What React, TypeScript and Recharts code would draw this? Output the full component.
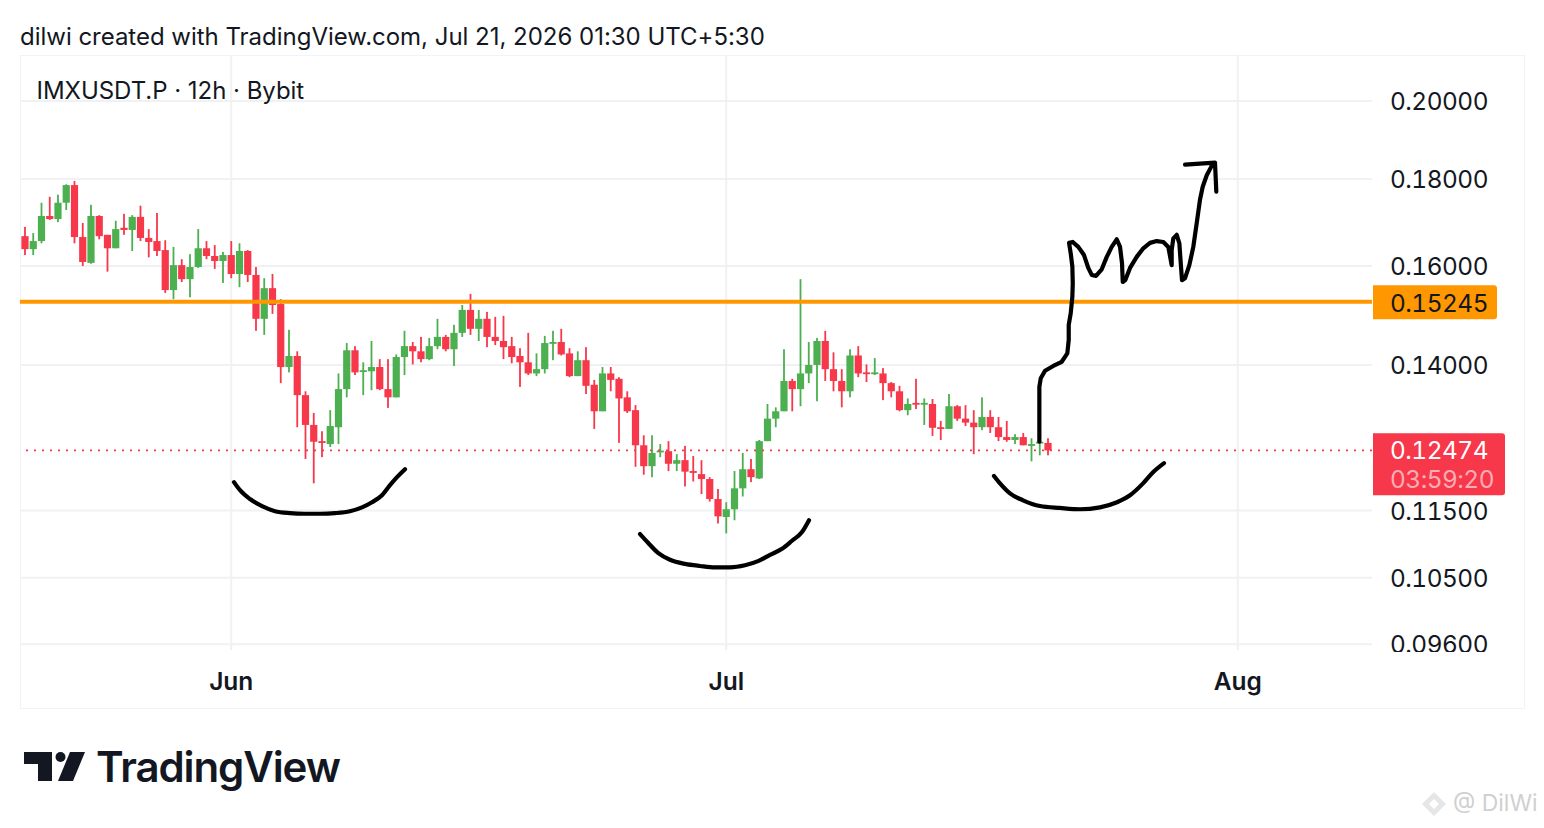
import React from "react";
import { ComposedChart, Bar, Line, XAxis, YAxis, CartesianGrid, ReferenceLine } from "recharts";

const highs = [.1687,.1673,.1743,.1757,.1762,.1787,.1795,.1696,.1738,.1714,.1669,.1701,.1717,.1714,.1736,.1682,.1719,.1657,.1642,.1615,.1626,.1682,.1655,.1646,.1631,
.1655,.1650,.1635,.1598,.1574,.1583,.1530,.1468,.1426,.1351,.1312,.1280,.1317,.1384,.1442,.1436,.1405,.1446,.1411,.1411,.1420,.1466,.1444,.1454,.1452,
.1490,.1458,.1478,.1518,.1541,.1508,.1504,.1494,.1496,.1454,.1432,.1462,.1422,.1456,.1466,.1470,.1432,.1426,.1434,.1372,.1396,.1396,.1377,.1351,.1326,
.1273,.1273,.1258,.1263,.1241,.1255,.1238,.1231,.1203,.1184,.1163,.1213,.1243,.1233,.1265,.1328,.1322,.1430,.1374,.1572,.1444,.1452,.1466,.1424,.1392,
.1430,.1436,.1401,.1413,.1394,.1368,.1361,.1338,.1374,.1338,.1337,.1298,.1346,.1326,.1326,.1317,.1340,.1317,.1305,.1298,.1275,.1277,.1268,.1270,.1268];
const opens = [.1666,.1637,.1655,.1712,.1705,.1743,.1785,.1664,.1607,.1712,.1669,.1639,.1685,.1680,.1710,.1662,.1655,.1635,.1549,.1602,.1572,.1598,.1639,.1622,.1611,
.1624,.1583,.1633,.1581,.1490,.1553,.1520,.1396,.1417,.1344,.1291,.1263,.1258,.1287,.1355,.1428,.1388,.1388,.1396,.1355,.1340,.1415,.1436,.1426,.1411,
.1436,.1454,.1430,.1462,.1508,.1470,.1490,.1454,.1446,.1436,.1417,.1405,.1384,.1392,.1442,.1444,.1422,.1379,.1409,.1363,.1315,.1384,.1374,.1340,.1317,
.1256,.1221,.1245,.1246,.1225,.1231,.1213,.1208,.1200,.1168,.1140,.1152,.1185,.1216,.1201,.1263,.1302,.1315,.1370,.1355,.1384,.1400,.1446,.1392,.1370,
.1351,.1418,.1386,.1384,.1384,.1366,.1351,.1317,.1330,.1328,.1328,.1287,.1284,.1324,.1302,.1295,.1287,.1305,.1287,.1270,.1265,.1270,.1256,.1260,.1260];
const closes = [.1637,.1655,.1712,.1705,.1743,.1785,.1664,.1609,.1712,.1666,.1639,.1682,.1680,.1710,.1662,.1653,.1633,.1549,.1602,.1572,.1598,.1639,.1622,.1611,.1624,
.1583,.1633,.1581,.1490,.1553,.1518,.1396,.1417,.1344,.1291,.1262,.1262,.1289,.1355,.1428,.1386,.1390,.1396,.1355,.1340,.1415,.1436,.1426,.1411,.1436,
.1454,.1430,.1462,.1508,.1470,.1490,.1454,.1446,.1434,.1415,.1405,.1384,.1392,.1442,.1444,.1420,.1379,.1409,.1361,.1315,.1384,.1372,.1338,.1315,.1256,
.1221,.1243,.1247,.1225,.1231,.1212,.1210,.1200,.1168,.1141,.1152,.1185,.1216,.1203,.1263,.1302,.1315,.1370,.1355,.1384,.1400,.1446,.1392,.1370,.1351,
.1418,.1384,.1384,.1386,.1366,.1351,.1317,.1328,.1328,.1330,.1286,.1286,.1324,.1302,.1295,.1287,.1305,.1287,.1270,.1265,.1270,.1256,.1258,.1262,.12474];
const lows = [.1624,.1624,.1650,.1703,.1698,.1726,.1650,.1600,.1605,.1659,.1588,.1639,.1669,.1633,.1655,.1619,.1622,.1543,.1530,.1566,.1534,.1596,.1615,.1594,.1564,
.1574,.1555,.1566,.1466,.1458,.1500,.1366,.1386,.1287,.1233,.1193,.1236,.1253,.1258,.1340,.1381,.1344,.1353,.1353,.1321,.1340,.1381,.1401,.1405,.1409,
.1430,.1426,.1398,.1454,.1458,.1446,.1434,.1438,.1411,.1403,.1359,.1381,.1379,.1384,.1409,.1418,.1377,.1379,.1346,.1284,.1315,.1351,.1260,.1312,.1220,
.1207,.1203,.1236,.1213,.1213,.1188,.1196,.1176,.1164,.1130,.1115,.1135,.1172,.1195,.1200,.1263,.1287,.1315,.1315,.1324,.1366,.1333,.1370,.1351,.1322,
.1340,.1377,.1368,.1381,.1335,.1340,.1315,.1308,.1319,.1291,.1272,.1265,.1284,.1298,.1289,.1241,.1282,.1277,.1263,.1262,.1258,.1256,.1229,.1239,.1239];

const xTicks = [25, 85, 147];
const xTickLabels: Record<number, string> = { 25: "Jun", 85: "Jul", 147: "Aug" };
const priceTicks = [0.096, 0.105, 0.115, 0.14, 0.16, 0.18, 0.2];
const levelPrice = 0.15245;
const lastPrice = 0.12474;
const countdown = "03:59:20";

const leftBowlI = [25.33,26.06,27.27,28.73,30.3,32.12,33.94,35.76,37.58,39.39,40.85,42.06,43.27,44.24,45.09,46.06];
const leftBowlP = [.1195,.1182,.1168,.1157,.1149,.1146,.1145,.1145,.1146,.1149,.1155,.1163,.1174,.1190,.1203,.1216];
const midBowlI = [74.55,75.52,76.73,78.18,80,81.82,83.64,85.45,87.27,88.85,90.3,91.76,92.97,94.18,95.03];
const midBowlP = [.1114,.1101,.1086,.1076,.1070,.1067,.1065,.1065,.1068,.1074,.1083,.1092,.1104,.1117,.1135];
const rightBowlI = [117.45,118.18,119.39,120.97,123.03,125.45,127.88,130.3,132.36,133.94,135.52,136.73,138.06];
const rightBowlP = [.1205,.1193,.1177,.1166,.1157,.1154,.1152,.1155,.1163,.1174,.1193,.1211,.1226];
const arrowI = [122.95,122.95,123.12,123.64,124.64,125.66,126.34,126.51,126.51,126.75,126.95,127,126.95,126.75,126.55,127,127.67,128.36,128.88,129.3,129.82,130.51,131.12,131.72,132.33,132.73,132.97,133.06,133.37,133.94,134.75,135.55,136.36,137.18,137.98,138.58,138.99,138.99,139.19,139.6,139.92,140.09,140.24,140.61,141.13,141.61,142.02,142.42,142.75,143.24,143.84,144.24,140.61,144.24,144.4];
const arrowP = [.1262,.1359,.1375,.1389,.1398,.1406,.1422,.1448,.1478,.1501,.1535,.1563,.1599,.1628,.1651,.1653,.1642,.1624,.1596,.1581,.1579,.1593,.1620,.1642,.1659,.1642,.1606,.1566,.1570,.1596,.1620,.1639,.1651,.1655,.1653,.1642,.1602,.1635,.1661,.1669,.1650,.1606,.1570,.1574,.1602,.1642,.1695,.1750,.1781,.1809,.1832,.1840,.1835,.1840,.1769];

const rows = highs.map((h, i) => ({ i, high: h, low: lows[i], open: opens[i], close: closes[i], range: [lows[i], h] }));
const strokeRows = (xs: number[], ps: number[]) => xs.map((i, k) => ({ i, p: ps[k] }));

const UP = "#4CAF50";
const DOWN = "#F7374A";
const FONT = "Inter, 'Noto Sans', sans-serif";
const TNUM: React.CSSProperties = { fontVariantNumeric: "tabular-nums", letterSpacing: -0.5 };

function Candle(props: any) {
  const { x, y, width, height, payload } = props;
  const top = Math.min(y, y + height);
  const h = Math.abs(height);
  const span = Math.log(payload.high / payload.low) || 1;
  const at = (v: number) => top + (h * Math.log(payload.high / v)) / span;
  const up = payload.close >= payload.open;
  const c = up ? UP : DOWN;
  const bt = at(Math.max(payload.open, payload.close));
  const bb = at(Math.min(payload.open, payload.close));
  const cx = x + width / 2;
  return (
    <g>
      <rect x={cx - 0.9} y={top} width={1.8} height={h} fill={c} />
      <rect x={cx - 3.6} y={bt} width={7.2} height={Math.max(bb - bt, 1.8)} fill={c} />
    </g>
  );
}

function PriceTick(props: any) {
  const { y, payload } = props;
  return (
    <text x={1390} y={y + 9} fontFamily={FONT} fontSize={24.4} fill="#131722" clipPath="url(#axisClip)" style={TNUM}>
      {payload.value.toFixed(5)}
    </text>
  );
}

function TimeTick(props: any) {
  const { x, y, payload } = props;
  return (
    <text x={x} y={y + 12} textAnchor="middle" fontFamily={FONT} fontSize={24.5} fontWeight={600} fill="#131722">
      {xTickLabels[payload.value]}
    </text>
  );
}

function LevelLabel(props: any) {
  const y = props.viewBox.y;
  return (
    <g>
      <path d={`M1373 ${y - 16.5} H1494 a3 3 0 0 1 3 3 V${y + 14.5} a3 3 0 0 1 -3 3 H1373 Z`} fill="#FF9800" />
      <text x={1390} y={y + 10} fontFamily={FONT} fontSize={24.4} fill="#131722" style={TNUM}>{levelPrice.toFixed(5)}</text>
    </g>
  );
}

function LastLabel(props: any) {
  const y = props.viewBox.y;
  return (
    <g>
      <path d={`M1373 ${y - 17} H1502 a3 3 0 0 1 3 3 V${y + 42} a3 3 0 0 1 -3 3 H1373 Z`} fill={DOWN} />
      <text x={1390} y={y + 9} fontFamily={FONT} fontSize={24.4} fill="#fff" style={TNUM}>{lastPrice.toFixed(5)}</text>
      <text x={1390} y={y + 38} fontFamily={FONT} fontSize={24.4} fill="#fff" fillOpacity={0.6} style={TNUM}>{countdown}</text>
    </g>
  );
}

const inkProps = { stroke: "#000", strokeWidth: 4.2, dot: false, activeDot: false, legendType: "none" as const, isAnimationActive: false, strokeLinecap: "round" as const, strokeLinejoin: "round" as const, dataKey: "p" };

const abs = (left: number, top: number): React.CSSProperties => ({ position: "absolute", left, top, whiteSpace: "nowrap", lineHeight: 1 });

export default function App() {
  return (
    <div style={{ position: "absolute", left: 0, top: 0, width: 1544, height: 828, background: "#fff", overflow: "hidden", fontFamily: FONT, color: "#131722" }}>
      <div style={{ ...abs(20, 25), fontSize: 24, letterSpacing: -0.02 }}>dilwi created with TradingView.com, Jul 21, 2026 01:30 UTC+5:30</div>
      <div style={{ position: "absolute", left: 20, top: 55, width: 1503, height: 652, border: "1px solid #F0F3FA" }} />
      <div style={{ position: "absolute", left: 0, top: 0 }}>
        <ComposedChart width={1544} height={828} data={rows} margin={{ top: 55, right: 20, bottom: 120, left: 20 }}>
          <defs>
            <clipPath id="axisClip"><rect x={1372} y={55} width={152} height={597} /></clipPath>
          </defs>
          <CartesianGrid stroke="#F0F1F3" strokeWidth={2} horizontalValues={priceTicks} verticalValues={xTicks} />
          <XAxis dataKey="i" type="number" domain={[-0.606, 163.27]} ticks={xTicks} allowDataOverflow axisLine={false} tickLine={false} height={58} tick={<TimeTick />} interval={0} tickMargin={22} />
          <YAxis orientation="right" type="number" scale="log" domain={[0.09525, 0.2128]} ticks={priceTicks} allowDataOverflow axisLine={false} tickLine={false} width={152} tick={<PriceTick />} interval={0} />
          <Bar dataKey="range" barSize={7} shape={<Candle />} isAnimationActive={false} />
          <ReferenceLine y={lastPrice} stroke={DOWN} strokeWidth={1.6} strokeDasharray="2 6" label={<LastLabel />} />
          <ReferenceLine y={levelPrice} stroke="#FF9800" strokeWidth={4} label={<LevelLabel />} />
          <Line {...inkProps} type="monotone" data={strokeRows(leftBowlI, leftBowlP)} />
          <Line {...inkProps} type="monotone" data={strokeRows(midBowlI, midBowlP)} />
          <Line {...inkProps} type="monotone" data={strokeRows(rightBowlI, rightBowlP)} />
          <Line {...inkProps} type="linear" data={strokeRows(arrowI, arrowP)} />
        </ComposedChart>
      </div>
      <div style={{ ...abs(36.5, 79), fontSize: 24, letterSpacing: -0.03 }}>IMXUSDT.P · 12h · Bybit</div>
      <svg style={{ position: "absolute", left: 0, top: 740 }} width={90} height={50}>
        <path d="M24 12 H52 V41 H38 V24 H24 Z" fill="#131722" />
        <circle cx={60.5} cy={17} r={5} fill="#131722" />
        <path d="M70 12 H85 L73 41 H58 Z" fill="#131722" />
      </svg>
      <div style={{ ...abs(96, 746), fontSize: 42, fontWeight: 600, letterSpacing: -1.1 }}>TradingView</div>
      <svg style={{ position: "absolute", left: 1420, top: 790 }} width={28} height={28}>
        <path d="M14 2 L26 14 L14 26 L2 14 Z M14 9 L19 14 L14 19 L9 14 Z" fill="#E6E6E6" fillRule="evenodd" />
      </svg>
      <div style={{ ...abs(1453, 792), fontSize: 23, color: "#D0D0D0" }}>@ DilWi</div>
    </div>
  );
}
